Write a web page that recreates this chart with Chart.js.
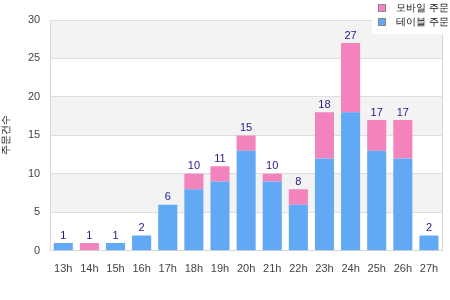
<!DOCTYPE html>
<html>
<head>
<meta charset="utf-8">
<script src="https://cdn.jsdelivr.net/npm/chart.js@4"></script>
<style>
  html, body { margin: 0; padding: 0; background: #fff; }
  #wrap { width: 450px; height: 300px; }
</style>
</head>
<body>
<div id="wrap"><canvas id="orderChart" width="450" height="300"></canvas></div>
<script>
var hours = ['13h', '14h', '15h', '16h', '17h', '18h', '19h', '20h', '21h', '22h', '23h', '24h', '25h', '26h', '27h'];
var tableOrders = [1, 0, 1, 2, 6, 8, 9, 13, 9, 6, 12, 18, 13, 12, 2];
var mobileOrders = [0, 1, 0, 0, 0, 2, 2, 2, 1, 2, 6, 9, 4, 5, 0];
var yTicks = [0, 5, 10, 15, 20, 25, 30];
var seriesNames = ['모바일 주문', '테이블 주문'];
var axisTitle = '주문건수';

var pink = 'rgb(243, 131, 188)';
var blue = 'rgb(98, 169, 245)';
var fontFamily = '"Liberation Sans", Arial, sans-serif';

// gray bands every other step, plus frame
var bandsPlugin = {
  id: 'bands',
  beforeDraw: function(chart) {
    var ctx = chart.ctx, area = chart.chartArea, y = chart.scales.y;
    ctx.save();
    ctx.fillStyle = '#f3f3f3';
    for (var i = 1; i + 1 < yTicks.length; i += 2) {
      var top = y.getPixelForValue(yTicks[i + 1]);
      var bottom = y.getPixelForValue(yTicks[i]);
      ctx.fillRect(area.left, top, area.right - area.left, bottom - top);
    }
    ctx.restore();
  },
  afterDraw: function(chart) {
    var ctx = chart.ctx, area = chart.chartArea, y = chart.scales.y;
    ctx.save();
    ctx.strokeStyle = '#d8d8d8';
    ctx.lineWidth = 1;
    ctx.beginPath();
    ctx.moveTo(area.right + 0.5, area.top);
    ctx.lineTo(area.right + 0.5, area.bottom);
    ctx.stroke();

    // totals above bars
    ctx.fillStyle = '#1c1c8a';
    ctx.font = '11px ' + fontFamily;
    ctx.textAlign = 'center';
    ctx.textBaseline = 'bottom';
    var meta = chart.getDatasetMeta(0);
    hours.forEach(function(h, i) {
      var total = tableOrders[i] + mobileOrders[i];
      ctx.fillText(String(total), meta.data[i].x, y.getPixelForValue(total) - 2);
    });

    // legend box
    ctx.fillStyle = '#fff';
    ctx.fillRect(372, 0, 78, 34);
    var items = [[pink, seriesNames[0]], [blue, seriesNames[1]]];
    items.forEach(function(it, k) {
      var cy = 8 + k * 14;
      ctx.fillStyle = it[0];
      ctx.fillRect(378, cy - 4, 8, 8);
      ctx.strokeStyle = '#888';
      ctx.strokeRect(378.5, cy - 3.5, 7, 7);
      ctx.fillStyle = '#111';
      ctx.textAlign = 'left';
      ctx.textBaseline = 'middle';
      ctx.font = '10px ' + fontFamily;
      ctx.fillText(it[1], 396, cy);
    });
    ctx.restore();
  }
};

new Chart(document.getElementById('orderChart'), {
  type: 'bar',
  data: {
    labels: hours,
    datasets: [{
      label: seriesNames[1],
      data: tableOrders,
      backgroundColor: blue,
      barPercentage: 0.73,
      categoryPercentage: 1
    },
    {
      label: seriesNames[0],
      data: mobileOrders,
      backgroundColor: pink,
      barPercentage: 0.73,
      categoryPercentage: 1
    }]
  },
  options: {
    responsive: false,
    animation: false,
    layout: { padding: { top: 20, right: 8, left: 0, bottom: 20 } },
    plugins: {
      legend: { display: false },
      tooltip: { enabled: false }
    },
    scales: {
      x: {
        stacked: true,
        grid: { display: false },
        border: { color: '#d8d8d8' },
        ticks: { color: '#444', font: { size: 11, family: fontFamily }, padding: 4 }
      },
      y: {
        stacked: true,
        min: 0,
        max: 30,
        afterBuildTicks: function(axis) {
          axis.ticks = yTicks.map(function(v) { return { value: v }; });
        },
        grid: { color: '#dedede', drawTicks: false },
        border: { color: '#d8d8d8' },
        ticks: { color: '#444', font: { size: 11, family: fontFamily }, padding: 10 },
        title: { display: true, text: axisTitle, color: '#111', font: { size: 10, family: fontFamily }, padding: { top: 0, bottom: 6 } }
      }
    }
  },
  plugins: [bandsPlugin]
});
</script>
</body>
</html>
